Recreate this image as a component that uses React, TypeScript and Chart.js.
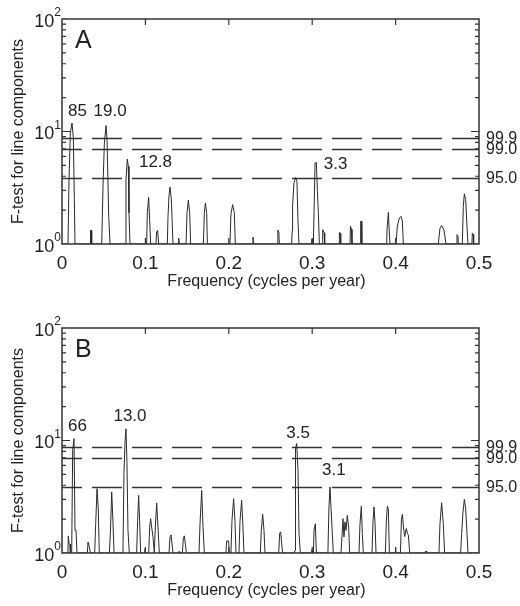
import React, { useEffect, useRef } from "react";
import { Chart, registerables } from "chart.js";

Chart.register(...registerables);

// ---------- Data ----------
// Panel A: frequency (cycles per year) and F-test value
const freqA = [
  0, 0.0072, 0.0084, 0.01, 0.012, 0.0136, 0.0148, 0.0156,
  0.034, 0.0342, 0.0354, 0.0356,
  0.0476, 0.0492, 0.0508, 0.0528, 0.054, 0.056, 0.0576,
  0.0763, 0.0767, 0.0783, 0.0795, 0.0803, 0.0815,
  0.1015, 0.1023, 0.1039, 0.1051, 0.1063,
  0.1127, 0.1135, 0.1147, 0.1159,
  0.1263, 0.1271, 0.1283, 0.1295, 0.1311, 0.1323, 0.1331,
  0.1391, 0.1399, 0.1407,
  0.1487, 0.1499, 0.1515, 0.1531, 0.1543,
  0.1695, 0.1707, 0.1719, 0.1735, 0.1743,
  0.2014, 0.2026, 0.2046, 0.2066, 0.2078,
  0.2282, 0.229, 0.2298,
  0.2582, 0.2588, 0.26, 0.2606,
  0.2754, 0.2759, 0.2765, 0.2781, 0.2801, 0.2817, 0.2829, 0.2841,
  0.299, 0.2994, 0.301, 0.3014, 0.3022, 0.3034, 0.305, 0.3062, 0.3074, 0.3086,
  0.3118, 0.3126, 0.3142, 0.315,
  0.3322, 0.3326, 0.3338, 0.3342,
  0.3453, 0.3459, 0.3471, 0.3477,
  0.3577, 0.3581, 0.3591, 0.3595,
  0.3893, 0.3897, 0.3913, 0.3925, 0.3933,
  0.4005, 0.4021, 0.4045, 0.4065, 0.4081, 0.4093,
  0.4512, 0.4532, 0.4552, 0.458, 0.4604,
  0.4732, 0.4736, 0.4748, 0.4752,
  0.48, 0.4812, 0.4824, 0.484, 0.4856, 0.4868,
  0.4916, 0.492, 0.4932, 0.4936,
  0.5,
];
const ftestA = [
  1, 1, 3.7, 9.7, 11.9, 8.8, 2.5, 1,
  1, 1.32, 1.32, 1,
  1, 3.3, 7.9, 11.3, 8.5, 1.76, 1,
  1, 3.7, 5.7, 4.9, 1.9, 1,
  1, 1.9, 2.6, 1.65, 1,
  1, 1.28, 1.32, 1,
  1, 1.76, 2.7, 3.2, 2.5, 1.44, 1,
  1, 1.13, 1,
  1, 1.9, 2.45, 1.9, 1,
  1, 1.9, 2.31, 1.9, 1,
  1, 1.85, 2.24, 1.9, 1,
  1, 1.15, 1,
  1, 1.33, 1.28, 1,
  1, 1.3, 2.2, 3.5, 3.9, 3.6, 1.65, 1,
  1, 1.1, 1.1, 1, 1.9, 5.25, 5.3, 3.0, 1.9, 1,
  1, 1.34, 1.26, 1,
  1, 1.27, 1.25, 1,
  1, 1.44, 1.35, 1,
  1, 1.59, 1.59, 1,
  1, 1.34, 1.91, 1.25, 1,
  1, 1.44, 1.7, 1.76, 1.6, 1,
  1, 1.38, 1.46, 1.33, 1,
  1, 1.21, 1.18, 1,
  1, 2.16, 2.8, 2.48, 1.44, 1,
  1, 1.25, 1.22, 1,
  1,
];

// Panel B
const freqB = [
  0, 0.007, 0.0076, 0.0084, 0.0096, 0.01,
  0.0116, 0.0128, 0.0144, 0.0156, 0.0168, 0.018,
  0.0304, 0.0312, 0.0328, 0.034,
  0.0392, 0.0404, 0.042, 0.0435, 0.0447,
  0.0568, 0.058, 0.0596, 0.0612, 0.0624,
  0.0731, 0.0743, 0.0755, 0.0767, 0.0779, 0.0791, 0.0807,
  0.0895, 0.0907, 0.0919, 0.0931, 0.0943,
  0.0991, 0.0995, 0.0999,
  0.104, 0.1051, 0.1063, 0.1075, 0.1091, 0.1107, 0.1119, 0.1135, 0.1151, 0.1167,
  0.1283, 0.1295, 0.1307, 0.1319, 0.1331,
  0.1399, 0.1403, 0.1407,
  0.1443, 0.1455, 0.1467, 0.1479, 0.1491,
  0.1643, 0.1655, 0.1675, 0.1691, 0.1707,
  0.1966, 0.1974, 0.1998, 0.2006,
  0.2026, 0.2038, 0.2058, 0.2074, 0.2086,
  0.2122, 0.2134, 0.2154, 0.217, 0.2182,
  0.2378, 0.239, 0.2406, 0.2422, 0.2434,
  0.2598, 0.261, 0.2622, 0.2634, 0.2646,
  0.2778, 0.2794, 0.28, 0.2814, 0.283, 0.2842, 0.2858,
  0.299, 0.2994, 0.301, 0.3014, 0.3022, 0.3038, 0.305,
  0.3181, 0.3189, 0.3201, 0.3213, 0.3225, 0.3241, 0.3253,
  0.3345, 0.3357, 0.3369, 0.3381, 0.3393, 0.3405, 0.3421, 0.3437, 0.3449,
  0.3561, 0.3573, 0.3589, 0.3601, 0.3613,
  0.3717, 0.3729, 0.3741, 0.3753, 0.3765,
  0.3877, 0.3889, 0.3901, 0.3913, 0.3925,
  0.3994, 0.3998, 0.4002,
  0.4058, 0.407, 0.4082, 0.4094, 0.4109, 0.4129, 0.4141, 0.4153, 0.4169,
  0.4356, 0.436, 0.4368, 0.4372,
  0.452, 0.4532, 0.4552, 0.4572, 0.4588,
  0.478, 0.4792, 0.4808, 0.4824, 0.484, 0.4856, 0.4868,
  0.5,
];
const ftestB = [
  1, 1, 1.42, 1.21, 1.2, 1,
  1, 8.2, 10.4, 1.59, 1.59, 1,
  1, 1.25, 1.13, 1,
  1, 1.82, 3.73, 2.48, 1,
  1, 1.5, 3.49, 1.82, 1,
  1, 5.1, 9.4, 12.7, 6.4, 1.59, 1,
  1, 1.95, 3.26, 1.9, 1,
  1, 1.09, 1,
  1, 1.7, 2.02, 1.7, 1.39, 1, 1.7, 2.78, 1.7, 1,
  1, 1.38, 1.45, 1.21, 1,
  1, 1.03, 1,
  1, 1.35, 1.42, 1.2, 1,
  1, 1.82, 3.6, 1.7, 1,
  1, 1.28, 1.28, 1,
  1, 1.95, 3.04, 1.9, 1,
  1, 1.9, 2.94, 1.7, 1,
  1, 1.59, 2.21, 1.59, 1,
  1, 1.5, 1.54, 1.21, 1,
  1, 1.05, 8.5, 9.4, 5.4, 1.49, 1,
  1, 1.06, 1.04, 1, 1.59, 1.82, 1,
  1, 1.05, 2.56, 3.86, 2.56, 1.49, 1,
  1, 1.39, 2.02, 1.39, 1.89, 1.59, 2.16, 1.7, 1,
  1, 1.82, 2.6, 1.49, 1,
  1, 1.89, 2.56, 1.89, 1,
  1, 1.89, 2.6, 2.48, 1,
  1, 1.09, 1,
  1, 2.0, 2.21, 1.7, 1.4, 1.65, 1.5, 1.44, 1,
  1, 1.04, 1.04, 1,
  1, 1.82, 2.8, 1.82, 1,
  1, 1.49, 2.3, 3.0, 2.48, 1.49, 1,
  1,
];

// Significance levels (F value) and their labels
const thresholdValues = [8.7, 6.95, 3.85];
const thresholdLabels = ["99.9", "99.0", "95.0"];

// Peak period labels (years) with anchor positions in data coordinates
const peakTextA = ["85", "19.0", "12.8", "3.3"];
const peakFreqA = [0.0186, 0.0576, 0.1121, 0.328];
const peakValA = [15.2, 15.2, 5.3, 5.14];
const peakTextB = ["66", "13.0", "3.5", "3.1"];
const peakFreqB = [0.0186, 0.0815, 0.283, 0.326];
const peakValB = [13.4, 16.4, 11.5, 5.43];

// Axis ticks
const xTickValues = [0, 0.1, 0.2, 0.3, 0.4, 0.5];
const xTickLabels = ["0", "0.1", "0.2", "0.3", "0.4", "0.5"];
const yMajorValues = [1, 10, 100];
const yMajorExponents = ["0", "1", "2"];
const yMinorValues = [2, 3, 4, 5, 6, 7, 8, 9, 20, 30, 40, 50, 60, 70, 80, 90];

const xTitle = "Frequency (cycles per year)";
const yTitle = "F-test for line components";

const FONT = '"Liberation Sans", Arial, sans-serif';
const INK = "#222";

const decorPlugin = {
  id: "decor",
  beforeDatasetsDraw(chart: any, _a: any, o: any) {
    const { ctx, chartArea } = chart;
    const ys = chart.scales.y;
    ctx.save();
    ctx.strokeStyle = "#333";
    ctx.lineWidth = 1.4;
    ctx.setLineDash([30, 10]);
    ctx.lineDashOffset = 10;
    thresholdValues.forEach((v) => {
      const py = Math.round(ys.getPixelForValue(v)) + 0.5;
      ctx.beginPath();
      ctx.moveTo(chartArea.left, py);
      ctx.lineTo(chartArea.right, py);
      ctx.stroke();
    });
    ctx.restore();
  },
  afterDraw(chart: any, _a: any, o: any) {
    const { ctx, chartArea } = chart;
    const { left, right, top, bottom } = chartArea;
    const xs = chart.scales.x;
    const ys = chart.scales.y;
    ctx.save();
    ctx.setLineDash([]);
    ctx.strokeStyle = "#333";
    ctx.fillStyle = INK;
    ctx.lineWidth = 1.5;
    ctx.strokeRect(left, top, right - left, bottom - top);

    // x ticks
    ctx.lineWidth = 1.2;
    xTickValues.forEach((t, i) => {
      const px = xs.getPixelForValue(t);
      if (i > 0 && i < xTickValues.length - 1) {
        ctx.beginPath();
        ctx.moveTo(px, top);
        ctx.lineTo(px, top + 6);
        ctx.moveTo(px, bottom);
        ctx.lineTo(px, bottom - 6);
        ctx.stroke();
      }
      ctx.font = `19px ${FONT}`;
      ctx.textAlign = "center";
      ctx.textBaseline = "middle";
      ctx.fillText(xTickLabels[i], px, bottom + 20);
    });

    // y ticks
    const drawYTick = (v: number, len: number) => {
      const py = ys.getPixelForValue(v);
      ctx.beginPath();
      ctx.moveTo(left, py);
      ctx.lineTo(left + len, py);
      ctx.moveTo(right, py);
      ctx.lineTo(right - len, py);
      ctx.stroke();
    };
    yMinorValues.forEach((v) => drawYTick(v, 4));
    drawYTick(10, 8);

    // y labels 10^n
    yMajorValues.forEach((v, i) => {
      const py = ys.getPixelForValue(v);
      ctx.textBaseline = "middle";
      ctx.textAlign = "right";
      ctx.font = `12px ${FONT}`;
      const ws = ctx.measureText(yMajorExponents[i]).width;
      ctx.fillText(yMajorExponents[i], left - 1, py - 6);
      ctx.font = `18px ${FONT}`;
      ctx.fillText("10", left - 1 - ws, py + 3);
    });

    // axis titles
    ctx.font = `16px ${FONT}`;
    ctx.textAlign = "center";
    ctx.textBaseline = "middle";
    ctx.fillText(xTitle, (left + right) / 2 - 4, bottom + 38);
    ctx.save();
    ctx.translate(19, (top + bottom) / 2);
    ctx.rotate(-Math.PI / 2);
    ctx.fillText(yTitle, 0, 0);
    ctx.restore();

    // right-side significance labels
    ctx.font = `16px ${FONT}`;
    ctx.textAlign = "left";
    thresholdValues.forEach((v, i) => {
      ctx.fillText(thresholdLabels[i], right + 7, ys.getPixelForValue(v));
    });

    // peak labels
    ctx.font = `17px ${FONT}`;
    ctx.textAlign = "center";
    o.peakText.forEach((t: string, i: number) => {
      ctx.fillText(t, xs.getPixelForValue(o.peakFreq[i]), ys.getPixelForValue(o.peakVal[i]));
    });

    // panel letter
    ctx.font = `25px ${FONT}`;
    ctx.textAlign = "left";
    ctx.fillText(o.letter, left + 13, top + 22);
    ctx.restore();
  },
};

function makeConfig(freq: number[], vals: number[], panel: any): any {
  return {
    type: "line",
    data: {
      datasets: [
        {
          data: freq.map((x, i) => ({ x, y: vals[i] })),
          borderColor: "#2a2a2a",
          borderWidth: 1,
          pointRadius: 0,
          tension: 0,
          fill: false,
        },
      ],
    },
    options: {
      animation: false,
      responsive: false,
      events: [],
      layout: { padding: { left: 62, right: 41, top: panel.top, bottom: panel.bottom } },
      scales: {
        x: { type: "linear", min: 0, max: 0.5, display: false },
        y: { type: "logarithmic", min: 1, max: 100, display: false },
      },
      plugins: {
        legend: { display: false },
        tooltip: { enabled: false },
        decor: {
          letter: panel.letter,
          peakText: panel.peakText,
          peakFreq: panel.peakFreq,
          peakVal: panel.peakVal,
        },
      },
    },
    plugins: [decorPlugin],
  };
}

export default function App() {
  const refA = useRef<HTMLCanvasElement>(null);
  const refB = useRef<HTMLCanvasElement>(null);
  useEffect(() => {
    const a = new Chart(
      refA.current as HTMLCanvasElement,
      makeConfig(freqA, ftestA, {
        top: 19,
        bottom: 59,
        letter: "A",
        peakText: peakTextA,
        peakFreq: peakFreqA,
        peakVal: peakValA,
      })
    );
    const b = new Chart(
      refB.current as HTMLCanvasElement,
      makeConfig(freqB, ftestB, {
        top: 25,
        bottom: 53,
        letter: "B",
        peakText: peakTextB,
        peakFreq: peakFreqB,
        peakVal: peakValB,
      })
    );
    return () => {
      a.destroy();
      b.destroy();
    };
  }, []);
  return (
    <div style={{ position: "absolute", left: 0, top: 0, width: 520, height: 606, background: "#fff" }}>
      <canvas ref={refA} width={520} height={303} style={{ position: "absolute", left: 0, top: 0, display: "block" }} />
      <canvas ref={refB} width={520} height={303} style={{ position: "absolute", left: 0, top: 303, display: "block" }} />
    </div>
  );
}
